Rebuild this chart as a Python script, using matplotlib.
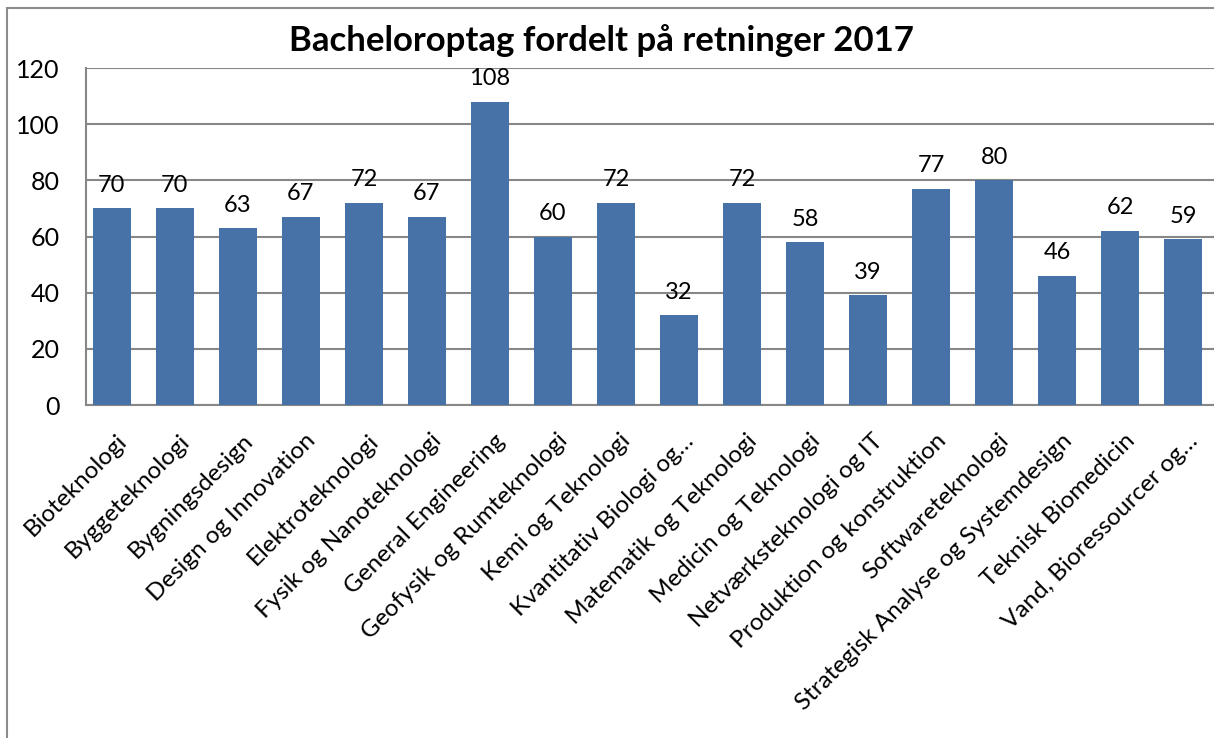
'''
bachelor admissions per programme 2017
'''
import matplotlib.pyplot as plt
from matplotlib.patches import Rectangle
from matplotlib.transforms import ScaledTranslation

plt.rcParams['font.family'] = ['Lato', 'DejaVu Sans']

programmes = ['Bioteknologi', 'Byggeteknologi', 'Bygningsdesign',
              'Design og Innovation', 'Elektroteknologi',
              'Fysik og Nanoteknologi', 'General Engineering',
              'Geofysik og Rumteknologi', 'Kemi og Teknologi',
              'Kvantitativ Biologi og…', 'Matematik og Teknologi',
              'Medicin og Teknologi', 'Netværksteknologi og IT',
              'Produktion og konstruktion', 'Softwareteknologi',
              'Strategisk Analyse og Systemdesign', 'Teknisk Biomedicin',
              'Vand, Bioressourcer og…']
admitted = [70, 70, 63, 67, 72, 67, 108, 60, 72, 32, 72, 58, 39, 77, 80, 46, 62, 59]
y_ticks = [0, 20, 40, 60, 80, 100, 120]

fig = plt.figure(figsize=(12.14, 7.38), dpi=100)
ax = fig.add_axes([86 / 1214, 1 - 405 / 738, (1214 - 86) / 1214, (405 - 68) / 738])

# chart frame, cut off at right and bottom like the screenshot
fig.patches.append(Rectangle((7 / 1214, -0.1), 1.2, 1 - 8 / 738 + 0.1,
                             transform=fig.transFigure, fill=False,
                             edgecolor='#8c8c8c', linewidth=1.5))

x = range(len(programmes))
ax.bar(x, admitted, width=0.6, color='#4672a8', zorder=3)
for i, v in zip(x, admitted):
    ax.annotate(str(v), (i, v), xytext=(0, 9), textcoords='offset points',
                ha='center', va='bottom', fontsize=17)

ax.set_ylim(0, 120)
ax.set_xlim(-0.41, 17.49)
ax.set_yticks(y_ticks)
ax.tick_params(axis='y', labelsize=18, length=0, pad=19)
ax.grid(axis='y', color='#878787', linewidth=1.5, zorder=0)
ax.set_xticks(list(x))
ax.set_xticklabels(programmes, rotation=45, ha='right', rotation_mode='anchor',
                   fontsize=17.5)
ax.tick_params(axis='x', length=0, pad=18)
shift = ScaledTranslation(4 / 100, 0, fig.dpi_scale_trans)
for lab in ax.get_xticklabels():
    lab.set_transform(lab.get_transform() + shift)
for side in ['top', 'right']:
    ax.spines[side].set_visible(False)
for side in ['left', 'bottom']:
    ax.spines[side].set_color('#878787')
    ax.spines[side].set_linewidth(1.5)

fig.text(601 / 1214, 1 - 41 / 738, 'Bacheloroptag fordelt på retninger 2017',
         ha='center', va='center', fontsize=25, fontweight='bold')

fig.savefig('out.png', dpi=100)
